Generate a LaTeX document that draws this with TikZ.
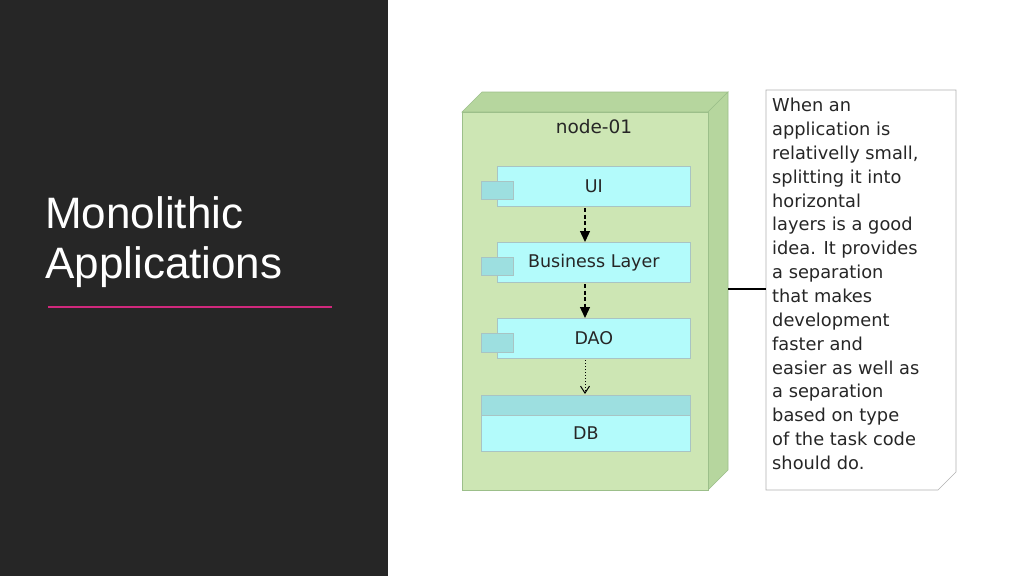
\documentclass[tikz,border=0pt]{standalone}
\usepackage{fontspec}
\setmainfont{DejaVu Sans}
\newfontfamily\titlefont{Liberation Sans}
\usetikzlibrary{arrows.meta}
\definecolor{panel}{HTML}{262626}
\definecolor{front}{HTML}{CDE6B4}
\definecolor{sidec}{HTML}{B6D69E}
\definecolor{comp}{HTML}{B3FBFB}
\definecolor{compd}{HTML}{9DDFE0}
\definecolor{edgec}{HTML}{9CBF8A}
\definecolor{pinkline}{HTML}{D0287C}
\tikzset{
  comp/.style={draw=compd!70!black!60, fill=comp, line width=0.6pt, minimum width=193pt, minimum height=40pt, anchor=north west, inner sep=0pt, font=\fontsize{17.5}{20}\selectfont, text=black!85},
  tab/.style={draw=compd!70!black!60, fill=compd, line width=0.6pt},
  dep/.style={-{Triangle[length=11pt,width=10pt]}, dash pattern=on 4pt off 2.5pt, line width=1.3pt},
}
\begin{document}
\begin{tikzpicture}[x=1pt,y=-1pt]
\useasboundingbox (0,0) rectangle (1024,576);
\fill[white] (0,0) rectangle (1024,576);
\fill[panel] (0,0) rectangle (388,576);
\node[anchor=base west, inner sep=0pt, text=white, font=\titlefont\fontsize{44}{50}\selectfont] (t1) at (45,228) {Monolithic};
\node[anchor=base west, inner sep=0pt, text=white, font=\titlefont\fontsize{44}{50}\selectfont] (t2) at (45,278) {Applications};
\draw[pinkline, line width=1.2pt] (48,307) -- (332,307);
% 3D node
\filldraw[fill=sidec, draw=edgec, line width=0.6pt] (462,112) -- (482,92) -- (728,92) -- (708,112) -- cycle;
\filldraw[fill=sidec, draw=edgec, line width=0.6pt] (708,112) -- (728,92) -- (728,470) -- (708,490) -- cycle;
\filldraw[fill=front, draw=edgec, line width=0.6pt] (462,112) rectangle (708,490);
\node[font=\fontsize{18.5}{20}\selectfont, text=black!85] (nl) at (594,127) {node-01};
% components
\node[comp] (ui) at (497,166) {UI};
\draw[tab] (481,181) rectangle (513,199);
\node[comp] (bl) at (497,242) {Business Layer};
\draw[tab] (481,257) rectangle (513,275);
\node[comp] (dao) at (497,318) {DAO};
\draw[tab] (481,333) rectangle (513,352);
\draw[draw=compd!70!black!60, fill=compd, line width=0.6pt] (481,395) rectangle (690,415);
\node[comp, minimum width=209pt, minimum height=36pt] (db) at (481,415) {DB};
\draw[draw=compd!70!black!60, line width=0.6pt] (481,395) rectangle (690,451);
\coordinate (a1) at (585,208); \coordinate (b1) at (585,242);
\coordinate (a2) at (585,284); \coordinate (b2) at (585,318);
\coordinate (a3) at (585,360); \coordinate (b3) at (585,394);
\draw[dep] (a1) -- (b1);
\draw[dep] (a2) -- (b2);
\draw[dotted, line width=1pt, -{Straight Barb[length=7pt,width=9pt]}] (a3) -- (b3);
% note
\filldraw[fill=white, draw=black!30, line width=0.6pt] (766,90) -- (956,90) -- (956,472) -- (938,490) -- (766,490) -- cycle;
\coordinate (nc) at (766,289);
\coordinate (ns) at (728,289);
\draw[line width=1.2pt] (ns) -- (nc);
\node[anchor=north west, align=left, inner sep=0pt, font=\fontsize{17.8}{23.85}\selectfont, text=black!85] (note) at (772,98) {When an\\application is\\relativelly small,\\splitting it into\\horizontal\\layers is a good\\idea. It provides\\a separation\\that makes\\development\\faster and\\easier as well as\\a separation\\based on type\\of the task code\\should do.};
\end{tikzpicture}
\end{document}
